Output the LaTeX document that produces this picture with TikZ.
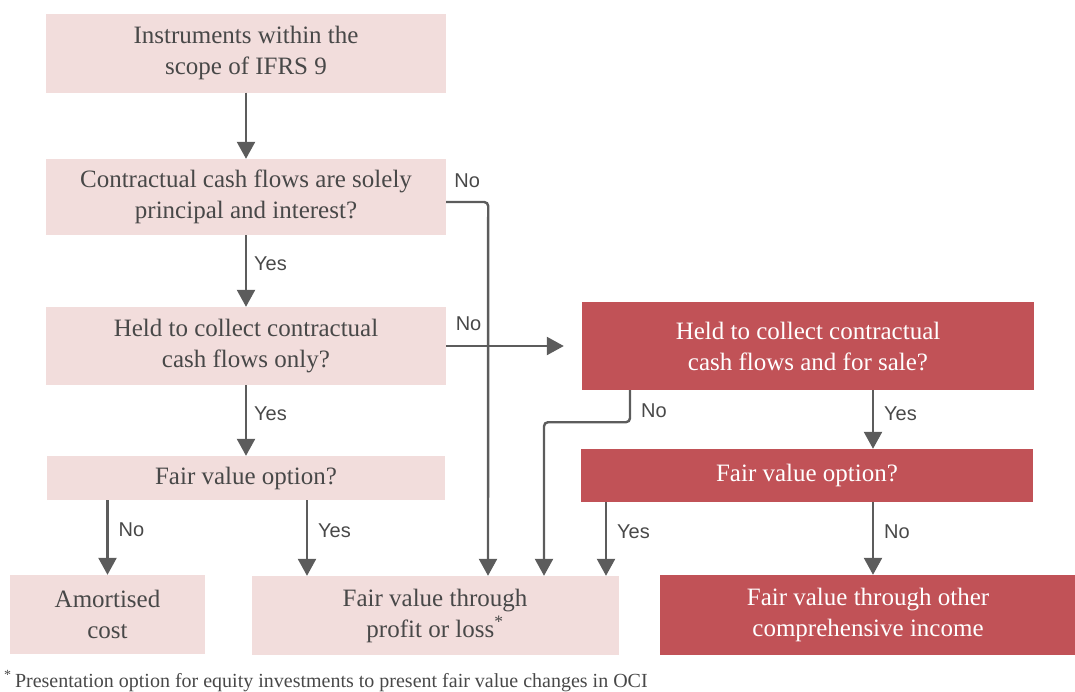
\documentclass[tikz,border=0pt]{standalone}
\usepackage{fontspec}
\setmainfont{Liberation Serif}
\setsansfont{Liberation Sans}
\usetikzlibrary{arrows.meta,positioning}
\definecolor{boxpink}{RGB}{242,221,220}
\definecolor{boxred}{RGB}{193,82,87}
\definecolor{inkgrey}{RGB}{72,72,72}
\definecolor{linegrey}{RGB}{92,92,92}

\begin{document}
\begin{tikzpicture}[x=1pt,y=-1pt,
    pale/.style={fill=boxpink,text=inkgrey,align=center,inner sep=0pt,font=\fontsize{25}{31}\selectfont},
    dark/.style={fill=boxred,text=white,align=center,inner sep=0pt,font=\fontsize{25}{31}\selectfont},
    flow/.style={draw=linegrey,line width=2.4pt,-{Triangle[length=17pt,width=18pt]},rounded corners=4pt},
    answer/.style={text=inkgrey,inner sep=0pt,font=\sffamily\fontsize{20}{20}\selectfont}]
    \useasboundingbox (0,0) rectangle (1075,691);

    % left column
    \node [pale,minimum width=400pt,minimum height=79pt] (scope) at (246,53) {Instruments within the\\scope of IFRS 9};
    \node [pale,minimum width=400pt,minimum height=76pt] (sppi) at (246,197) {Contractual cash flows are solely\\principal and interest?};
    \node [pale,minimum width=400pt,minimum height=78pt] (held) at (246,346) {Held to collect contractual\\cash flows only?};
    \node [pale,minimum width=398pt,minimum height=44pt] (fvo) at (246,478) {Fair value option?};
    \node [pale,minimum width=195pt,minimum height=79pt] (amort) at (107.5,614.5) {Amortised\\cost};
    \node [pale,minimum width=367pt,minimum height=79pt] (fvpl) at (435,615.5) {Fair value through\\profit or loss\textsuperscript{*}};

    % right column
    \node [dark,minimum width=452pt,minimum height=88pt] (sale) at (808,346) {Held to collect contractual\\cash flows and for sale?};
    \node [dark,minimum width=452pt,minimum height=53pt] (fvo2) at (807,475.5) {Fair value option?};
    \node [dark,minimum width=416pt,minimum height=80pt] (oci) at (868,615) {Fair value through other\\comprehensive income};

    \node [anchor=base west,inner sep=0pt,text=inkgrey,font=\fontsize{20}{20}\selectfont] (note) at (4,687)
        {\textsuperscript{*}\,Presentation option for equity investments to present fair value changes in OCI};

    \draw [flow] (scope) -- (sppi);
    \draw [flow] (sppi) -- node [answer,pos=0.4,right=7pt] {Yes} (held);
    \draw [flow] (held) -- node [answer,pos=0.4,right=7pt] {Yes} (fvo);
    \draw [flow] ([yshift=-5pt]sppi.east) -- node [answer,above=13pt] {No} ++(42,0) -- ([xshift=53pt]fvpl.north);
    \draw [flow] (held.east) -- node [answer,pos=0.19,above=14pt] {No} ([xshift=-18pt]sale.west);
    \draw [flow] (fvo.south -| amort.north) -- node [answer,pos=0.4,right=10pt] {No} (amort.north);
    \draw [flow] ([xshift=61pt]fvo.south) -- node [answer,pos=0.4,right=10pt] {Yes} ([xshift=61pt]fvo.south |- fvpl.north);

    \draw [flow] ([xshift=-178pt]sale.south) -- node [answer,pos=0.65,right=10pt] {No} ++(0,32) -| ([xshift=109pt]fvpl.north);
    \draw [flow] ([xshift=65pt]sale.south) -- node [answer,pos=0.4,right=10pt] {Yes} ([xshift=65pt]sale.south |- fvo2.north);
    \draw [flow] ([xshift=-201pt]fvo2.south) -- node [answer,pos=0.4,right=10pt] {Yes} ([xshift=-201pt]fvo2.south |- fvpl.north);
    \draw [flow] ([xshift=66pt]fvo2.south) -- node [answer,pos=0.4,right=10pt] {No} ([xshift=66pt]fvo2.south |- oci.north);
\end{tikzpicture}
\end{document}
